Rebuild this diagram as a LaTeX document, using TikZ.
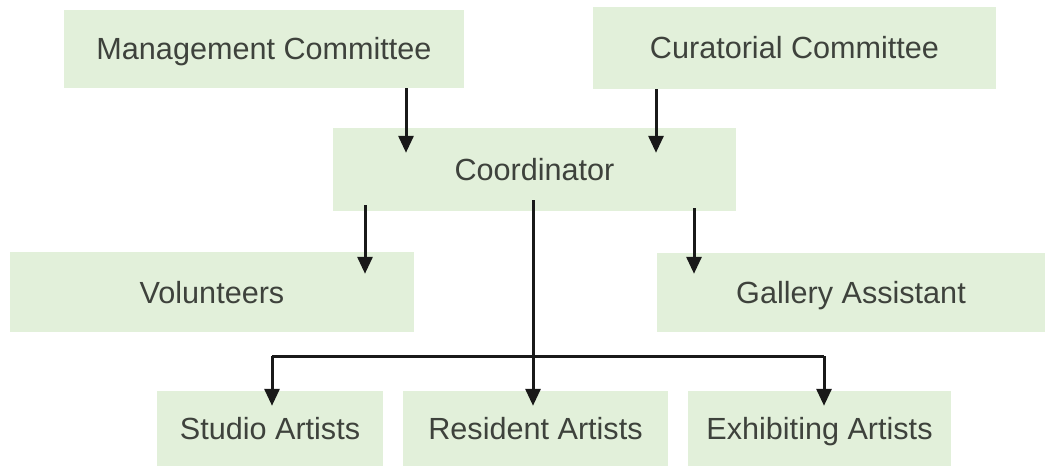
\documentclass[tikz,border=0pt]{standalone}
\usepackage{fontspec}
\setmainfont{Liberation Sans}
\usetikzlibrary{arrows.meta}
\definecolor{boxgreen}{RGB}{226,240,218}
\definecolor{txtgray}{RGB}{62,66,60}
\definecolor{arrowblk}{RGB}{25,25,25}
\tikzset{
  orgbox/.style={fill=boxgreen, draw=none, inner sep=0pt, text=txtgray,
    text height=22pt, text depth=0pt,
    font=\fontsize{30.6}{36}\selectfont},
  orgarrow/.style={draw=arrowblk, line width=3pt,
    -{Triangle[length=17pt,width=15pt]}},
  orgline/.style={draw=arrowblk, line width=3pt}
}
\begin{document}
\begin{tikzpicture}[x=1pt,y=-1pt]
\useasboundingbox[fill=white] (0,0) rectangle (1048,468);
\node[orgbox, minimum width=400pt, minimum height=78pt] (mc) at (264,49) {Management Committee};
\node[orgbox, minimum width=403pt, minimum height=82pt] (cc) at (794.5,48) {Curatorial Committee};
\node[orgbox, minimum width=403pt, minimum height=83pt] (co) at (534.5,169.5) {Coordinator};
\node[orgbox, minimum width=404pt, minimum height=80pt] (vo) at (212,292) {Volunteers};
\node[orgbox, minimum width=388pt, minimum height=79pt] (ga) at (851,292.5) {Gallery Assistant};
\node[orgbox, minimum width=226pt, minimum height=75pt] (sa) at (270,428.5) {Studio Artists};
\node[orgbox, minimum width=265pt, minimum height=75pt] (ra) at (535.5,428.5) {Resident Artists};
\node[orgbox, minimum width=263pt, minimum height=75pt] (ea) at (819.5,428.5) {Exhibiting Artists};

% committees to coordinator
\draw[orgarrow] (mc.south -| 406,0) -- ([yshift=-25pt]co.north -| 406,0);
\draw[orgarrow] (cc.south -| 656,0) -- ([yshift=-25pt]co.north -| 656,0);
% coordinator to volunteers and gallery assistant
\draw[orgarrow] ([yshift=6pt]co.south -| 365,0) -- ([yshift=-22pt]vo.north -| 365,0);
\draw[orgarrow] ([yshift=3pt]co.south -| 694,0) -- ([yshift=-21pt]ga.north -| 694,0);
% trunk to artists
\coordinate (split) at (533,356);
\draw[orgarrow] ([yshift=11pt]co.south -| split) -- ([yshift=-15pt]ra.north -| split);
\draw[orgline] (split -| 272,0) -- (split -| 824,0);
\draw[orgarrow] (split -| 272,0) -- ([yshift=-15pt]sa.north -| 272,0);
\draw[orgarrow] (split -| 824,0) -- ([yshift=-15pt]ea.north -| 824,0);
\end{tikzpicture}
\end{document}
